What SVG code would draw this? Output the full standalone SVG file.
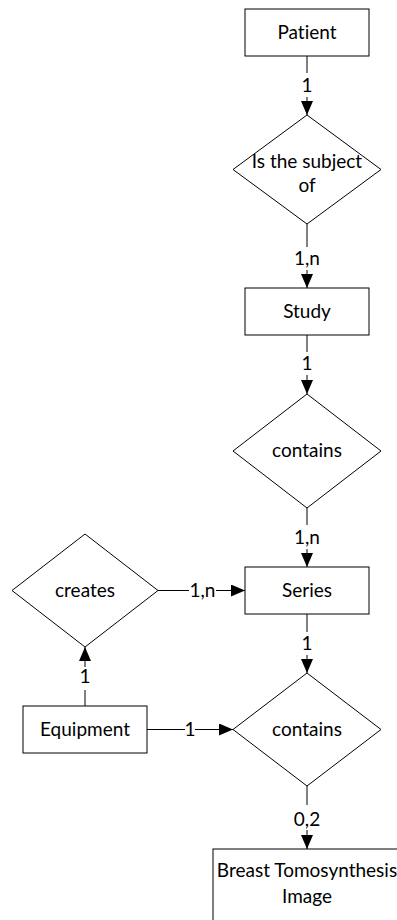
<svg xmlns="http://www.w3.org/2000/svg" width="397" height="920" viewBox="0 0 397 920">
<style>
.s{fill:#fff;stroke:#000;stroke-width:1}
.c{fill:none;stroke:#000;stroke-width:1}
text{font-family:Lato,"Liberation Sans",Arial,sans-serif;font-size:19px;fill:#000;text-anchor:middle;font-variant-ligatures:none}
</style>
<defs>
<marker id="ah" markerWidth="14" markerHeight="12" refX="14" refY="6" orient="auto" markerUnits="userSpaceOnUse">
<path d="M0,0 L14,6 L0,12 Z" fill="#000"/>
</marker>
</defs>
<rect width="397" height="920" fill="#fff"/>
<g id="connectors">
<path class="c" d="M307,56 V73 M307,97 V115" marker-end="url(#ah)"/>
<text x="307" y="92">1</text>
<path class="c" d="M307,224 V247 M307,270 V288" marker-end="url(#ah)"/>
<text x="307" y="265">1,n</text>
<path class="c" d="M307,335 V352 M307,375 V394" marker-end="url(#ah)"/>
<text x="307" y="370">1</text>
<path class="c" d="M307,508 V525 M307,549 V567" marker-end="url(#ah)"/>
<text x="307" y="544">1,n</text>
<path class="c" d="M307,614 V632 M307,655 V673" marker-end="url(#ah)"/>
<text x="307" y="650">1</text>
<path class="c" d="M307,786 V805 M307,830 V849" marker-end="url(#ah)"/>
<text x="307" y="826">0,2</text>
<path class="c" d="M158,590.5 H189 M216,590.5 H245" marker-end="url(#ah)"/>
<text x="202.5" y="597">1,n</text>
<path class="c" d="M147,729.5 H185 M195,729.5 H233" marker-end="url(#ah)"/>
<text x="190" y="736">1</text>
<path class="c" d="M85,706 V690 M85,667 V647" marker-end="url(#ah)"/>
<text x="85" y="683">1</text>
</g>
<g id="patient">
<rect class="s" x="245" y="9" width="124" height="47"/>
<text x="307" y="39">Patient</text>
</g>
<g id="is-subject-of">
<polygon class="s" points="307,115 381,169.5 307,224 233,169.5"/>
<text x="307" y="168">Is the subject</text>
<text x="307" y="192">of</text>
</g>
<g id="study">
<rect class="s" x="245" y="288" width="124" height="47"/>
<text x="307" y="318">Study</text>
</g>
<g id="contains1">
<polygon class="s" points="307,394 381,451 307,508 233,451"/>
<text x="307" y="457">contains</text>
</g>
<g id="series">
<rect class="s" x="245" y="567" width="124" height="47"/>
<text x="307" y="597">Series</text>
</g>
<g id="creates">
<polygon class="s" points="85,534 158,590.5 85,647 12,590.5"/>
<text x="85" y="597">creates</text>
</g>
<g id="contains2">
<polygon class="s" points="307,673 381,729.5 307,786 233,729.5"/>
<text x="307" y="736">contains</text>
</g>
<g id="equipment">
<rect class="s" x="23" y="706" width="124" height="47"/>
<text x="85" y="736">Equipment</text>
</g>
<g id="image">
<rect class="s" x="213" y="849" width="190" height="80"/>
<text x="307" y="877">Breast Tomosynthesis</text>
<text x="307" y="903">Image</text>
</g>
</svg>
